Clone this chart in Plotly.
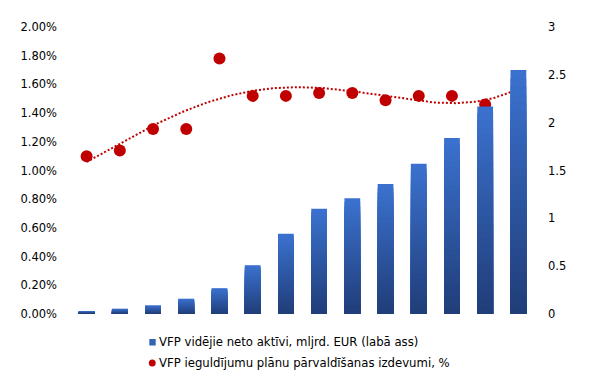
import numpy as np
import plotly.graph_objects as go

periods = list(range(1, 15))
net_assets_bn = [0.03, 0.055, 0.09, 0.16, 0.27, 0.51, 0.84, 1.10, 1.21, 1.36, 1.57, 1.84, 2.17, 2.55]
fees_pct = [1.10, 1.14, 1.29, 1.29, 1.78, 1.52, 1.52, 1.54, 1.54, 1.49, 1.52, 1.52, 1.46, 1.57]
left_ticks = [0, 0.2, 0.4, 0.6, 0.8, 1.0, 1.2, 1.4, 1.6, 1.8, 2.0]
right_ticks = [0, 0.5, 1, 1.5, 2, 2.5, 3]
name_bars = "VFP vidējie neto aktīvi, mljrd. EUR (labā ass)"
name_dots = "VFP ieguldījumu plānu pārvaldīšanas izdevumi, %"

FONT = "DejaVu Sans"
RED = "#C00000"
top_rgb = np.array([0x3B, 0x72, 0xCF])
bot_rgb = np.array([0x20, 0x3D, 0x78])
N = 30

fig = go.Figure()
vals = np.array(net_assets_bn)
# vertical gradient: overlapping bars, each shorter one darker
for k in range(N):
    frac = (N - k) / N
    t = (N - k - 0.5) / N
    c = bot_rgb + (top_rgb - bot_rgb) * t
    col = "rgb(%d,%d,%d)" % tuple(c.round().astype(int))
    fig.add_trace(go.Bar(
        x=periods, y=vals * frac, yaxis="y2",
        marker=dict(color=col, line=dict(width=0)),
        width=0.475, name=name_bars, showlegend=False, hoverinfo="skip"))

# polynomial (order 4) trendline of the fee series
coef = np.polyfit(periods, fees_pct, 4)
xs = np.linspace(1, 14, 200)
fig.add_trace(go.Scatter(
    x=xs, y=np.polyval(coef, xs), mode="lines", yaxis="y",
    line=dict(color=RED, width=2, dash="2px,2px"), showlegend=False,
    hoverinfo="skip"))

fig.add_trace(go.Scatter(
    x=periods, y=fees_pct, mode="markers", yaxis="y", name=name_dots,
    marker=dict(color=RED, size=12), showlegend=False))

# legend (drawn below the plot)
fig.add_shape(type="rect", xref="paper", yref="paper",
              x0=0.1706, x1=0.1843, y0=-0.1098, y1=-0.0871,
              fillcolor="#3462B4", line=dict(width=0))
fig.add_shape(type="circle", xref="paper", yref="paper",
              x0=0.1695, x1=0.1843, y0=-0.1829, y1=-0.1585,
              fillcolor=RED, line=dict(width=0))
fig.add_annotation(x=0.1875, y=-0.0976, xref="paper", yref="paper",
                   xanchor="left", yanchor="middle", showarrow=False,
                   text=name_bars, font=dict(family=FONT, size=11.7, color="#000"))
fig.add_annotation(x=0.1875, y=-0.1707, xref="paper", yref="paper",
                   xanchor="left", yanchor="middle", showarrow=False,
                   text=name_dots, font=dict(family=FONT, size=11.7, color="#000"))

fig.update_layout(
    width=584, height=377,
    margin=dict(l=55, r=57, t=19, b=71),
    paper_bgcolor="white", plot_bgcolor="white",
    font=dict(family=FONT, size=11.5, color="#000000"),
    barmode="overlay", showlegend=False,
    xaxis=dict(range=[0.5, 14.5], showticklabels=False, showgrid=False,
               zeroline=False, showline=False, ticks=""),
    yaxis=dict(range=[0, 2.0], tickvals=left_ticks,
               ticktext=["%.2f%%" % v for v in left_ticks],
               showgrid=False, zeroline=False, showline=False,
               ticklabelstandoff=12),
    yaxis2=dict(range=[0, 3], tickvals=right_ticks,
                ticktext=[("%g" % v) for v in right_ticks],
                overlaying="y", side="right", showgrid=False,
                zeroline=False, showline=False, ticklabelstandoff=12),
)

fig.write_html("out.html")
